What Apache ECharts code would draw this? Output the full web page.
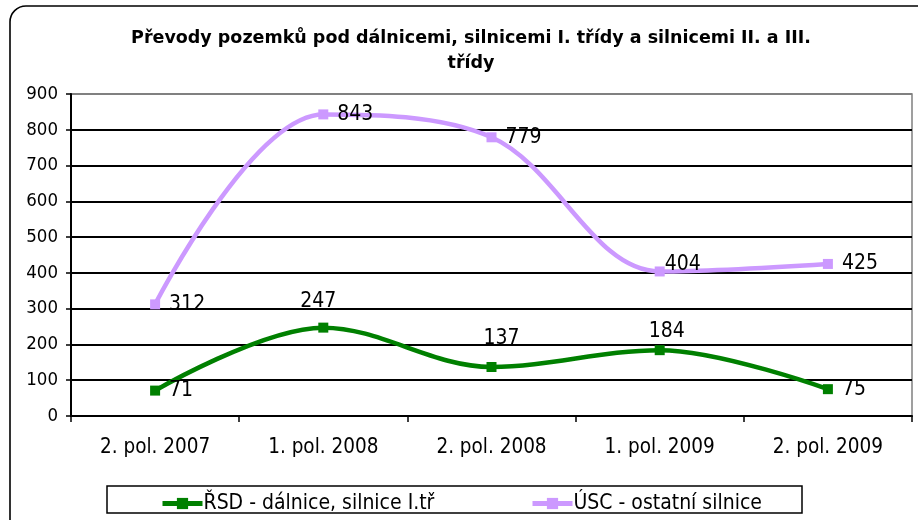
<!DOCTYPE html>
<html>
<head>
<meta charset="utf-8">
<script src="https://cdn.jsdelivr.net/npm/echarts@6/dist/echarts.min.js"></script>
<style>
  html, body { margin: 0; padding: 0; background: #fff; }
  #chart { width: 918px; height: 520px; }
</style>
</head>
<body>
<div id="chart"></div>
<script>
// data
const categories = ['2. pol. 2007', '1. pol. 2008', '2. pol. 2008', '1. pol. 2009', '2. pol. 2009']
const rsdValues = [71, 247, 137, 184, 75]
const uscValues = [312, 843, 779, 404, 425]
const seriesNames = ['ŘSD - dálnice, silnice I.tř', 'ÚSC - ostatní silnice']
const titleText = 'Převody pozemků pod dálnicemi, silnicemi I. třídy a silnicemi II. a III.\ntřídy'

// where each value label sits (like in the excel chart)
const rsdLabelPos = [
  { position: 'right', distance: 9 },
  { position: 'top', distance: 11, offset: [-5, 0] },
  { position: 'top', distance: 13, offset: [10, 0] },
  { position: 'top', distance: 3, offset: [7, 0] },
  { position: 'right', distance: 9 }
]
const uscLabelPos = [
  { position: 'right', distance: 9 },
  { position: 'right', distance: 9 },
  { position: 'right', distance: 9 },
  { position: 'right', distance: 0, offset: [0, -7] },
  { position: 'right', distance: 9 }
]

const FONT = '"DejaVu Sans Condensed", "Liberation Sans Narrow", sans-serif'

const withLabels = (values, pos) => values.map((v, i) => ({ value: v, label: pos[i] }))

const myChart = echarts.init(document.getElementById('chart'))
myChart.setOption({
  animation: false,
  backgroundColor: '#fff',
  textStyle: { fontFamily: FONT, color: '#000' },
  title: {
    text: titleText,
    left: 466,
    top: 21,
    textAlign: 'center',
    textStyle: {
      fontFamily: '"DejaVu Sans", sans-serif',
      fontWeight: 'bold',
      fontSize: 17.5,
      lineHeight: 25,
      color: '#000'
    }
  },
  graphic: [
    {
      // rounded chart frame
      type: 'rect',
      shape: { x: 10, y: 6, width: 930, height: 540, r: 16 },
      style: { fill: 'none', stroke: '#000', lineWidth: 1.6 },
      z: 100
    },
    {
      // legend box
      type: 'rect',
      shape: { x: 107, y: 486, width: 695, height: 27 },
      style: { fill: 'none', stroke: '#000', lineWidth: 1.5 },
      z: 100
    }
  ],
  legend: [
    {
      data: [seriesNames[0]],
      left: 155,
      top: 488,
      itemWidth: 40,
      itemHeight: 14,
      lineStyle: { width: 5 },
      textStyle: { fontFamily: FONT, fontSize: 21, color: '#000', padding: [0, 0, 0, -4] }
    },
    {
      data: [seriesNames[1]],
      left: 525,
      top: 488,
      itemWidth: 40,
      itemHeight: 14,
      lineStyle: { width: 5 },
      textStyle: { fontFamily: FONT, fontSize: 21, color: '#000', padding: [0, 0, 0, -4] }
    }
  ],
  grid: {
    left: 71,
    right: 6,
    top: 94,
    bottom: 104,
    show: true,
    borderColor: '#808080',
    borderWidth: 1.5
  },
  xAxis: {
    type: 'category',
    data: categories,
    boundaryGap: true,
    axisLine: { lineStyle: { color: '#000', width: 2 } },
    axisTick: { show: true, length: 6, lineStyle: { color: '#000', width: 1.5 } },
    axisLabel: { fontFamily: FONT, fontSize: 20.5, color: '#000', margin: 21 }
  },
  yAxis: {
    type: 'value',
    min: 0,
    max: 900,
    interval: 100,
    axisLine: { show: true, lineStyle: { color: '#000', width: 2 } },
    axisTick: { show: true, length: 5, lineStyle: { color: '#000', width: 1.5 } },
    axisLabel: { fontFamily: FONT, fontSize: 18.5, color: '#000', margin: 13 },
    splitLine: {
      lineStyle: {
        color: ['#000', '#000', '#000', '#000', '#000', '#000', '#000', '#000', '#000', '#808080'],
        width: 2
      }
    }
  },
  series: [
    {
      name: seriesNames[0],
      type: 'line',
      smooth: 0.35,
      data: withLabels(rsdValues, rsdLabelPos),
      symbol: 'rect',
      symbolSize: 10,
      lineStyle: { color: '#008000', width: 4.5 },
      itemStyle: { color: '#008000' },
      label: { show: true, fontFamily: FONT, fontSize: 21, color: '#000' }
    },
    {
      name: seriesNames[1],
      type: 'line',
      smooth: 0.35,
      data: withLabels(uscValues, uscLabelPos),
      symbol: 'rect',
      symbolSize: 10,
      lineStyle: { color: '#cc99ff', width: 4.5 },
      itemStyle: { color: '#cc99ff' },
      label: { show: true, fontFamily: FONT, fontSize: 21, color: '#000' }
    }
  ]
})
</script>
</body>
</html>
